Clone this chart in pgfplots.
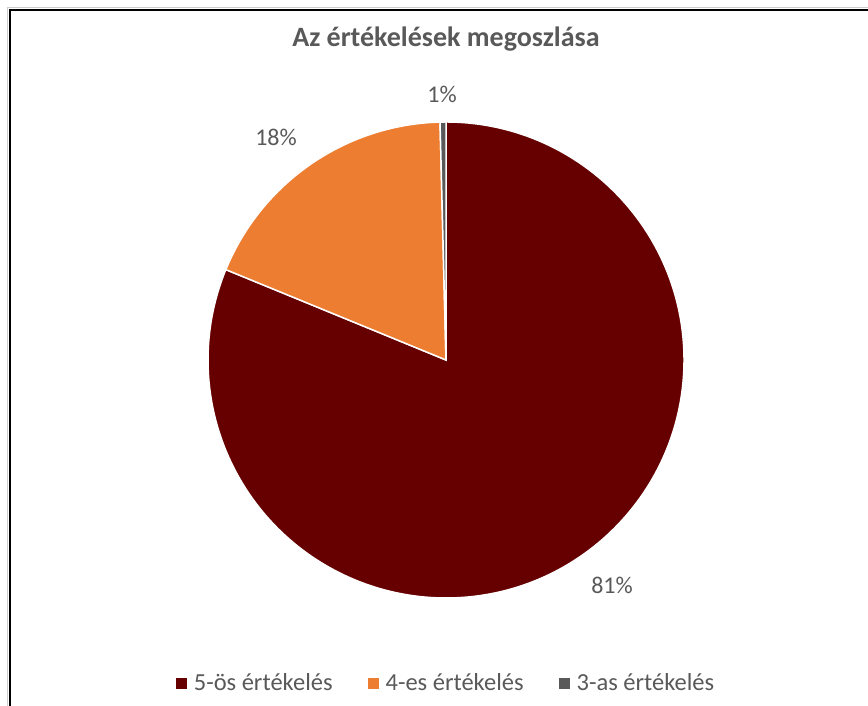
\documentclass[border=0pt]{standalone}
\usepackage{pgfplots}
\usepackage{pgfplotstable}
\pgfplotsset{compat=1.18}
\usepackage{fontspec}
\setmainfont{Carlito}
\definecolor{cfive}{HTML}{660000}
\definecolor{cfour}{HTML}{ED7D31}
\definecolor{cthree}{HTML}{595959}
\definecolor{txt}{HTML}{595959}

\pgfplotstableread{
grade value
5 81.2
4 18.4
3 0.4
}\piedata

\begin{document}
\begin{tikzpicture}[x=1bp,y=1bp]
\useasboundingbox (0,0) rectangle (868,706);
\pgfplotstablegetelem{0}{value}\of\piedata \let\vA\pgfplotsretval
\pgfplotstablegetelem{1}{value}\of\piedata \let\vB\pgfplotsretval
\pgfplotstablegetelem{2}{value}\of\piedata \let\vC\pgfplotsretval
\pgfmathsetmacro\aA{90}
\pgfmathsetmacro\aB{90-3.6*\vA}
\pgfmathsetmacro\aC{\aB-3.6*\vB}
\pgfmathsetmacro\aD{\aC-3.6*\vC}
% frame
\draw[black!20, line width=1bp] (7.5,0) -- (7.5,698.5) -- (868,698.5);
\draw[black, line width=2bp] (10,0) -- (10,696) -- (868,696);
\begin{axis}[
  at={(446bp,346bp)}, anchor=center,
  width=476bp, height=476bp, scale only axis,
  xmin=-1, xmax=1, ymin=-1, ymax=1,
  hide axis, clip=false,
  legend columns=3,
  legend image code/.code={\fill[#1] (0bp,-5.5bp) rectangle (11bp,5.5bp);},
  legend style={draw=none, fill=none, at={(0.5,-0.1786)}, anchor=center,
    font=\fontsize{24.5bp}{28bp}\selectfont, text=txt,
    /tikz/every odd column/.append style={column sep=5bp},
    /tikz/every even column/.append style={column sep=33bp}},
]
\fill[cfive, draw=white, line width=1.5bp] (axis cs:0,0) -- +(\aA:238bp) arc[start angle=\aA, end angle=\aB, radius=238bp] -- cycle;
\fill[cfour, draw=white, line width=1.5bp] (axis cs:0,0) -- +(\aB:238bp) arc[start angle=\aB, end angle=\aC, radius=238bp] -- cycle;
\fill[cthree, draw=white, line width=1.5bp] (axis cs:0,0) -- +(\aC:238bp) arc[start angle=\aC, end angle=\aD, radius=238bp] -- cycle;
\addlegendimage{fill=cfive, draw=none}
\addlegendentry{5-ös értékelés}
\addlegendimage{fill=cfour, draw=none}
\addlegendentry{4-es értékelés}
\addlegendimage{fill=cthree, draw=none}
\addlegendentry{3-as értékelés}
\end{axis}
\node[anchor=base, text=txt, font=\fontsize{28bp}{32bp}\selectfont\bfseries] at (446,659) {Az értékelések megoszlása};
\node[anchor=base, text=txt, font=\fontsize{24bp}{28bp}\selectfont] at (612,112) {81\%};
\node[anchor=base, text=txt, font=\fontsize{24bp}{28bp}\selectfont] at (276,560) {18\%};
\node[anchor=base, text=txt, font=\fontsize{24bp}{28bp}\selectfont] at (442,603) {1\%};
\end{tikzpicture}
\end{document}
